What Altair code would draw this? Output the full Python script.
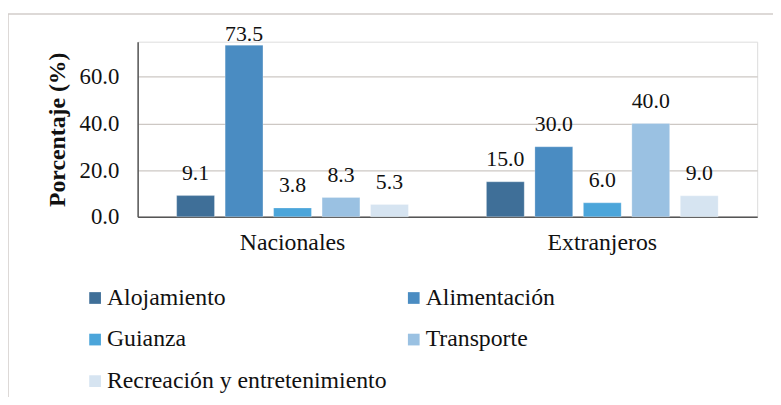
import altair as alt
import pandas as pd

groups = ["Nacionales", "Extranjeros"]
categories = ["Alojamiento", "Alimentación", "Guianza", "Transporte",
              "Recreación y entretenimiento"]
nacionales = [9.1, 73.5, 3.8, 8.3, 5.3]
extranjeros = [15.0, 30.0, 6.0, 40.0, 9.0]
colors = ["#3f6f98", "#4a8cc2", "#4ba5da", "#9ac1e2", "#d6e4f1"]
y_ticks = [0, 20, 40, 60]

rows = []
for cat, v in zip(categories, nacionales):
    rows.append({"grupo": "Nacionales", "categoria": cat, "valor": v})
for cat, v in zip(categories, extranjeros):
    rows.append({"grupo": "Extranjeros", "categoria": cat, "valor": v})
df = pd.DataFrame(rows)

FONT = "Times New Roman, Liberation Serif, DejaVu Serif, serif"

x_enc = alt.X("grupo:N", sort=groups,
              scale=alt.Scale(paddingInner=0, paddingOuter=0),
              axis=alt.Axis(title=None, labelAngle=0, labelFontSize=24,
                            labelFont=FONT, labelColor="#111",
                            labelPadding=14, ticks=False,
                            domainColor="#555", domainWidth=1.5, grid=False))
xo_enc = alt.XOffset("categoria:N", sort=categories,
                     scale=alt.Scale(paddingInner=0.22, paddingOuter=0.805))
y_scale = alt.Scale(domain=[0, 75], nice=False, zero=True)

bars = alt.Chart(df).mark_bar(stroke="#ffffff", strokeOpacity=0.25, strokeWidth=1).encode(
    x=x_enc,
    xOffset=xo_enc,
    y=alt.Y("valor:Q", scale=y_scale,
            axis=alt.Axis(title="Porcentaje (%)", values=y_ticks, format=".1f",
                          titleFont=FONT, titleFontSize=24, titleFontWeight="bold",
                          titleColor="#111", titlePadding=10,
                          labelFont=FONT, labelFontSize=23, labelColor="#111",
                          labelPadding=19, ticks=False,
                          domainColor="#555", domainWidth=1.5,
                          gridColor="#cdc8c4", gridWidth=1.2)),
    color=alt.Color("categoria:N", sort=categories,
                    scale=alt.Scale(domain=categories, range=colors),
                    legend=alt.Legend(title=None, orient="none", legendX=-55,
                                      legendY=247, columns=2, direction="horizontal",
                                      labelFont=FONT, labelFontSize=24,
                                      labelColor="#111", labelLimit=400,
                                      symbolType="square", symbolSize=140,
                                      symbolStrokeWidth=0, labelOffset=0,
                                      rowPadding=18, columnPadding=15,
                                      padding=0)),
)

labels = alt.Chart(df).transform_calculate(
    ly="min(datum.valor + 6.8, 75.2)"
).mark_text(font=FONT, fontSize=22, color="#111", baseline="alphabetic").encode(
    x=alt.X("grupo:N", sort=groups),
    xOffset=alt.XOffset("categoria:N", sort=categories),
    y=alt.Y("ly:Q", scale=y_scale),
    text=alt.Text("valor:Q", format=".1f"),
)

frame = alt.Chart(pd.DataFrame({"k": [0]})).mark_rect(
    fill=None, stroke="#d2cdca", strokeWidth=1.5
).encode(x=alt.value(-131), x2=alt.value(700), y=alt.value(-28), y2=alt.value(420))

chart = alt.layer(frame, bars, labels).properties(
    width=626, height=177,
    autosize=alt.AutoSizeParams(type="none"),
    padding={"left": 131, "top": 32, "right": 16, "bottom": 180},
).configure_view(stroke=None).configure(background="white")

chart.save("out.html", embed_options={"renderer": "svg", "actions": False})
